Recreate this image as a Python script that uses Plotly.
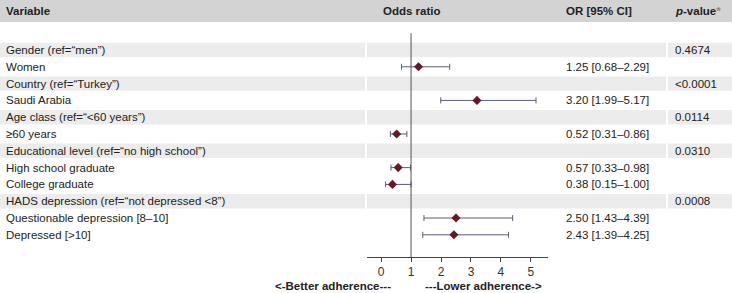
import plotly.graph_objects as go

W, H = 732, 293

variables = ["Gender (ref=\u201cmen\u201d)", "Women",
             "Country (ref=\u201cTurkey\u201d)", "Saudi Arabia",
             "Age class (ref=\u201c<60 years\u201d)", "\u226560 years",
             "Educational level (ref=\u201cno high school\u201d)", "High school graduate", "College graduate",
             "HADS depression (ref=\u201cnot depressed <8\u201d)", "Questionable depression [8\u201310]", "Depressed [>10]"]
is_header = [True, False, True, False, True, False, True, False, False, True, False, False]
odds = [None, 1.25, None, 3.20, None, 0.52, None, 0.57, 0.38, None, 2.50, 2.43]
ci_low = [None, 0.68, None, 1.99, None, 0.31, None, 0.33, 0.15, None, 1.43, 1.39]
ci_high = [None, 2.29, None, 5.17, None, 0.86, None, 0.98, 1.00, None, 4.39, 4.25]
p_values = ["0.4674", "", "<0.0001", "", "0.0114", "", "0.0310", "", "", "0.0008", "", ""]
x_ticks = [0, 1, 2, 3, 4, 5]

FONT = "Liberation Sans, Arial, sans-serif"
rows = list(range(len(variables)))
ypos = [-r for r in rows]

fig = go.Figure()

px = lambda p: p / W
band_segments = [(0, 365), (367, 666), (668, 732)]
for r, hdr in zip(rows, is_header):
    if hdr:
        for a, b in band_segments:
            fig.add_shape(type="rect", xref="paper", yref="y", x0=px(a), x1=px(b),
                          y0=-r - 0.43, y1=-r + 0.43, fillcolor="#ececec", line_width=0, layer="below")

# header band
fig.add_shape(type="rect", xref="paper", yref="y", x0=0, x1=1, y0=1.667, y1=3.2,
              fillcolor="#d3d3d3", line_width=0, layer="below")

# reference line at OR=1
fig.add_shape(type="line", xref="x", yref="y", x0=1, x1=1, y0=1.0, y1=-12.32,
              line=dict(color="#555555", width=1))

xs = [o for o in odds if o is not None]
ys = [y for y, o in zip(ypos, odds) if o is not None]
lo = [o - l for o, l in zip(odds, ci_low) if o is not None]
hi = [h - o for o, h in zip(odds, ci_high) if o is not None]
fig.add_trace(go.Scatter(
    x=xs, y=ys, mode="markers",
    marker=dict(symbol="diamond", size=7, color="#6b1626"),
    error_x=dict(type="data", symmetric=False, array=hi, arrayminus=lo,
                 color="#5c5c78", thickness=1, width=3),
    showlegend=False, hoverinfo="skip"))

ann = []
def text(x, y, s, bold=False, size=11.5, anchor="left", color="#222222", yref="y"):
    ann.append(dict(xref="paper", yref=yref, x=px(x), y=y, text=("<b>%s</b>" % s) if bold else s,
                    showarrow=False, xanchor=anchor, yanchor="middle",
                    font=dict(family=FONT, size=size, color=color)))

hy = 2.32
text(4, hy, "Variable", bold=True)
text(381, hy, "Odds ratio", bold=True)
text(564, hy, "OR [95% CI]", bold=True)
text(673, hy, "<i>p</i>-value<span style='color:#888888'>*</span>", bold=True)

for r, v in zip(rows, variables):
    text(4, -r, v)
for r, o, l, h in zip(rows, odds, ci_low, ci_high):
    if o is not None:
        text(564, -r, "%.2f [%.2f\u2013%.2f]" % (o, l, h))
for r, p in zip(rows, p_values):
    if p:
        text(673, -r, p)

bottom_y = -(286 - 257) / 257
text(333, bottom_y, "<-Better adherence---", bold=True, anchor="center", yref="paper")
text(483, bottom_y, "---Lower adherence->", bold=True, anchor="center", yref="paper")

fig.update_layout(
    width=W, height=H, margin=dict(l=0, r=0, t=0, b=36),
    paper_bgcolor="white", plot_bgcolor="white",
    annotations=ann,
    xaxis=dict(domain=[px(367), px(548)], range=[-0.47, 5.57], tickvals=x_ticks,
               showgrid=False, zeroline=False, showline=True, linecolor="#444444", linewidth=1,
               ticks="outside", ticklen=4, tickcolor="#444444",
               tickfont=dict(family=FONT, size=12, color="#333333")),
    yaxis=dict(range=[-12.32, 2.976], visible=False, showgrid=False, zeroline=False),
)

fig.write_html("out.html", config={"displayModeBar": False},
               post_script="document.body.style.margin='0';")
